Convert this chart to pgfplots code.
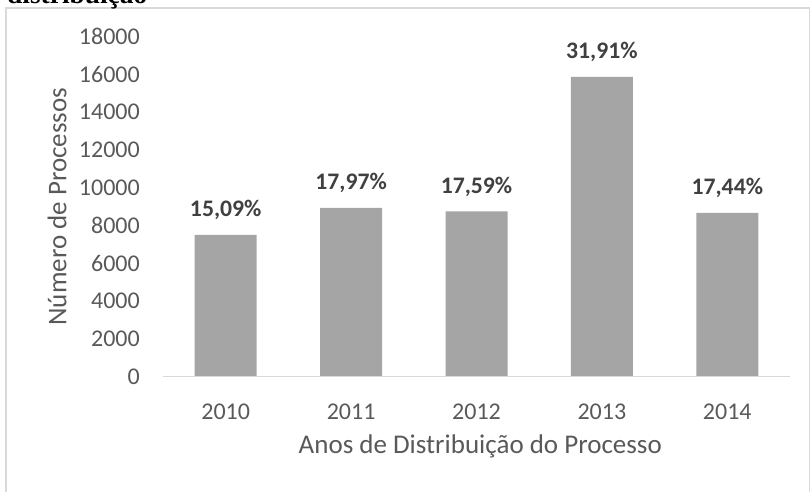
\documentclass[border=0pt]{standalone}
\usepackage{pgfplots}
\pgfplotsset{compat=1.18}
\usepackage{fontspec}
\setmainfont{Carlito}
\newfontfamily\serifb{Liberation Serif}
\definecolor{barc}{HTML}{A5A5A5}
\definecolor{txt}{HTML}{595959}
\definecolor{lbl}{HTML}{404040}
\definecolor{frm}{HTML}{D9D9D9}
\begin{document}
\begin{tikzpicture}[x=1pt,y=1pt]
\useasboundingbox (0,0) rectangle (810,491);
\draw[frm, line width=1.2pt] (6,-5) -- (6,483) -- (809.5,483) -- (809.5,-5);
\node[anchor=base west, inner sep=0pt, font=\serifb\bfseries\fontsize{27.4}{30}\selectfont] at (7,487) {distribuição};
\begin{axis}[
  at={(163pt,114.3pt)}, anchor=south west,
  scale only axis, width=627pt, height=340pt,
  xmin=-0.5, xmax=4.5, ymin=0, ymax=18000,
  ybar, bar width=62pt,
  xtick={0,1,2,3,4}, xticklabels={2010,2011,2012,2013,2014},
  ytick={0,2000,4000,6000,8000,10000,12000,14000,16000,18000},
  scaled y ticks=false,
  axis line style={draw=none}, tick style={draw=none},
  /pgf/number format/assume math mode=true,
  /pgf/number format/1000 sep={},
  /pgf/number format/fixed,
  ticklabel style={font=\fontsize{24}{26}\selectfont, text=txt},
  yticklabel style={anchor=east, inner sep=0pt, xshift=-23pt},
  xticklabel style={anchor=north, inner sep=0pt, yshift=-23pt},
  xlabel={Anos de Distribuição do Processo},
  ylabel={Número de Processos},
  label style={font=\fontsize{27}{30}\selectfont, text=txt},
  xlabel style={at={(axis description cs:0.506,-0.206)}, anchor=center, inner sep=0pt},
  ylabel style={at={(axis description cs:-0.169,0.5)}, anchor=center, inner sep=0pt, rotate=0},
  nodes near coords,
  point meta=explicit symbolic,
  every node near coord/.append style={anchor=base, inner sep=0pt, yshift=18pt, font=\bfseries\fontsize{23.7}{26}\selectfont, text=lbl},
  clip=false,
]
\addplot[fill=barc, draw=none] coordinates {
  (0,7507)  [15,09\%]
  (1,8940)  [17,97\%]
  (2,8751)  [17,59\%]
  (3,15875) [31,91\%]
  (4,8676)  [17,44\%]
};
\draw[frm, line width=1.3pt] (axis cs:-0.5,0) -- (axis cs:4.5,0);
\end{axis}
\end{tikzpicture}
\end{document}
